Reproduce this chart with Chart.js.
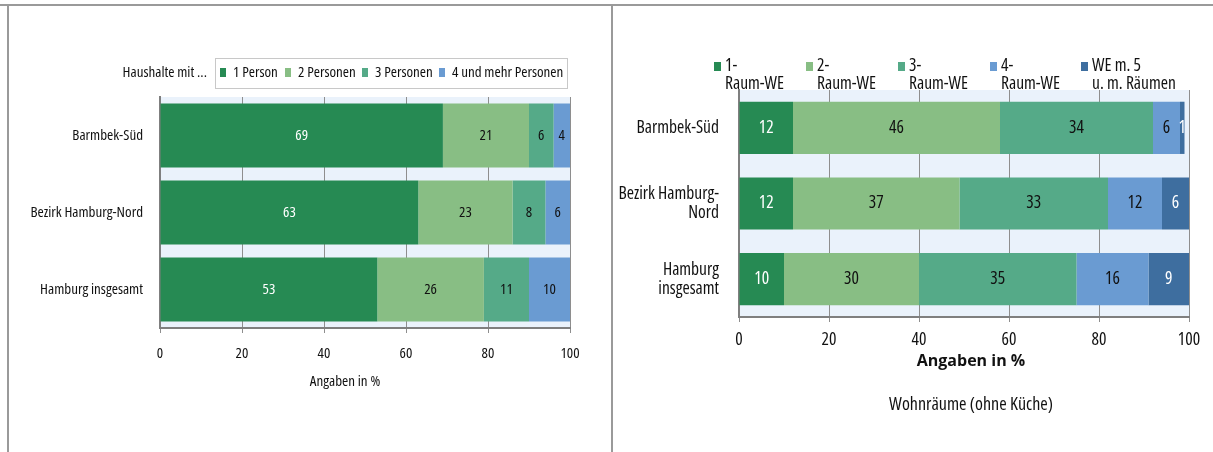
<!DOCTYPE html>
<html lang="de">
<head>
<meta charset="utf-8">
<title>Haushalte und Wohnräume</title>
<script src="https://cdn.jsdelivr.net/npm/chart.js@4.4.1/dist/chart.umd.min.js"></script>
<style>
  html, body { margin: 0; padding: 0; background: #fff; }
  body { width: 1213px; height: 452px; position: relative; overflow: hidden; }
  .rule { position: absolute; background: #9a9a9a; }
  #ruleTop { left: 0; top: 4px; width: 1213px; height: 2px; }
  #ruleLeft { left: 7px; top: 4px; width: 2px; height: 448px; }
  #ruleMid { left: 611px; top: 4px; width: 2px; height: 448px; }
  #wrapL { position: absolute; left: 0; top: 0; width: 611px; height: 452px; }
  #wrapR { position: absolute; left: 613px; top: 0; width: 600px; height: 452px; }
</style>
</head>
<body>
<div class="rule" id="ruleTop"></div>
<div class="rule" id="ruleLeft"></div>
<div class="rule" id="ruleMid"></div>
<div id="wrapL"><canvas id="chartL"></canvas></div>
<div id="wrapR"><canvas id="chartR"></canvas></div>
<script>
// ---- Haushaltsgröße (Anteile in %) ----
const regionsL = ['Barmbek-Süd', 'Bezirk Hamburg-Nord', 'Hamburg insgesamt'];
const hhLabels = ['1 Person', '2 Personen', '3 Personen', '4 und mehr Personen'];
const hh1 = [69, 63, 53];
const hh2 = [21, 23, 26];
const hh3 = [6, 8, 11];
const hh4 = [4, 6, 10];

// ---- Wohnungsgröße nach Räumen (Anteile in %) ----
const regionsR = [['Barmbek-Süd'], ['Bezirk Hamburg-', 'Nord'], ['Hamburg', 'insgesamt']];
const weLabels = [['1-', 'Raum-WE'], ['2-', 'Raum-WE'], ['3-', 'Raum-WE'], ['4-', 'Raum-WE'], ['WE m. 5', 'u. m. Räumen']];
const we1 = [12, 12, 10];
const we2 = [46, 37, 30];
const we3 = [34, 33, 35];
const we4 = [6, 12, 16];
const we5 = [1, 6, 9];

const xTicks = [0, 20, 40, 60, 80, 100];
const axisTitle = 'Angaben in %';
const noteR = 'Wohnräume (ohne Küche)';

// narrow lettering: condensed width of Open Sans (goes into the canvas font shorthand)
const FAMILY = '"Open Sans", "DejaVu Sans Condensed", sans-serif';
const NARROW = 'condensed 500';
const canvasFont = (size, weight) => (weight || NARROW) + ' ' + size + 'px ' + FAMILY;

const C = {
  green: '#268a53', light: '#88be84', teal: '#55aa88', blue: '#6a9bd2', navy: '#3e6e9f',
  plot: '#eaf2fb', grid: '#8e8e8e', axis: '#7f7f7f', text: '#111'
};

Chart.defaults.font.family = FAMILY;
Chart.defaults.font.weight = NARROW;
Chart.defaults.color = C.text;

// light background behind the plotting area
const plotBg = {
  id: 'plotBg',
  beforeDraw(chart) {
    const { ctx, chartArea: a } = chart;
    ctx.save();
    ctx.fillStyle = C.plot;
    ctx.fillRect(a.left, a.top, a.right - a.left, a.bottom - a.top);
    ctx.restore();
  }
};

// value printed in the middle of each bar segment
const segLabels = {
  id: 'segLabels',
  afterDatasetsDraw(chart, args, opts) {
    const { ctx } = chart;
    ctx.save();
    ctx.font = canvasFont(opts.fs);
    ctx.textAlign = 'center';
    ctx.textBaseline = 'middle';
    chart.data.datasets.forEach((ds, i) => {
      const meta = chart.getDatasetMeta(i);
      meta.data.forEach((bar, j) => {
        ctx.fillStyle = ds.labelColor;
        ctx.fillText(String(ds.data[j]), (bar.x + bar.base) / 2, bar.y);
      });
    });
    ctx.restore();
  }
};

// legend drawn at fixed slots, text may wrap over two lines
const slotLegend = {
  id: 'slotLegend',
  afterDraw(chart, args, opts) {
    const { ctx } = chart;
    ctx.save();
    ctx.font = canvasFont(opts.fs);
    ctx.textBaseline = 'middle';
    if (opts.box) {
      const b = opts.box;
      ctx.strokeStyle = '#c8c8c8';
      ctx.lineWidth = 1;
      ctx.strokeRect(b.x + 0.5, b.y + 0.5, b.w, b.h);
    }
    if (opts.title) {
      ctx.fillStyle = C.text;
      ctx.textAlign = 'right';
      ctx.fillText(opts.title.text, opts.title.x, opts.title.y);
    }
    ctx.textAlign = 'left';
    chart.data.datasets.forEach((ds, i) => {
      const mx = opts.markerX[i];
      ctx.fillStyle = ds.backgroundColor;
      ctx.fillRect(mx, opts.markerY, opts.markerW, opts.markerH);
      ctx.fillStyle = C.text;
      const lines = Array.isArray(ds.label) ? ds.label : [ds.label];
      lines.forEach((t, k) => ctx.fillText(t, mx + opts.textGap, opts.textY + k * opts.lineStep));
    });
    ctx.restore();
  }
};

// axis title and notes placed below the plot, relative to its centre
const captions = {
  id: 'captions',
  afterDraw(chart, args, opts) {
    const { ctx, chartArea: a } = chart;
    const cx = (a.left + a.right) / 2;
    ctx.save();
    ctx.fillStyle = C.text;
    ctx.textAlign = 'center';
    ctx.textBaseline = 'middle';
    (opts.items || []).forEach(it => {
      ctx.font = canvasFont(it.size, it.weight);
      ctx.fillText(it.text, cx + it.dx, it.y);
    });
    ctx.restore();
  }
};

function makeOptions(cfg) {
  return {
    indexAxis: 'y',
    responsive: true,
    maintainAspectRatio: false,
    animation: false,
    events: [],
    layout: { padding: cfg.padding },
    datasets: { bar: { categoryPercentage: 1, barPercentage: cfg.barPct, borderWidth: 0 } },
    scales: {
      x: {
        stacked: true, min: 0, max: 100,
        afterBuildTicks(scale) { scale.ticks = xTicks.map(v => ({ value: v })); },
        afterFit(scale) { scale.height = cfg.xHeight; },
        grid: { color: C.grid, lineWidth: 1, tickLength: 5, drawOnChartArea: true },
        border: { color: C.axis, width: 2 },
        ticks: { font: { size: cfg.fs, lineHeight: 1.2 }, padding: cfg.tickPad, color: C.text, maxRotation: 0 },
        title: { display: false, text: axisTitle }
      },
      y: {
        stacked: true,
        afterFit(scale) { scale.width = cfg.yWidth; },
        grid: { display: false },
        border: { color: C.axis, width: 2 },
        ticks: { font: { size: cfg.fs, lineHeight: 1.1 }, padding: cfg.yPad, color: C.text }
      }
    },
    plugins: {
      legend: { display: false },
      tooltip: { enabled: false },
      segLabels: { fs: cfg.fs },
      slotLegend: Object.assign({ fs: cfg.fs }, cfg.legend),
      captions: { items: cfg.captions }
    }
  };
}

new Chart(document.getElementById('chartL'), {
  type: 'bar',
  data: {
    labels: regionsL,
    datasets: [
      { label: hhLabels[0], data: hh1, backgroundColor: C.green, labelColor: '#fff' },
      { label: hhLabels[1], data: hh2, backgroundColor: C.light, labelColor: C.text },
      { label: hhLabels[2], data: hh3, backgroundColor: C.teal, labelColor: C.text },
      { label: hhLabels[3], data: hh4, backgroundColor: C.blue, labelColor: C.text }
    ]
  },
  options: makeOptions({
    fs: 15,
    padding: { left: 0, top: 97, right: 41, bottom: 60.6 },
    barPct: 0.83, xHeight: 63.4, tickPad: 11.6, yWidth: 160, yPad: 9,
    legend: {
      box: { x: 215, y: 58, w: 352, h: 30 },
      title: { text: 'Haushalte mit ...', x: 207, y: 73 },
      markerX: [220, 285, 362, 439], markerY: 68, markerW: 6, markerH: 9,
      textGap: 13, textY: 73, lineStep: 0
    },
    captions: [{ text: axisTitle, y: 382, dx: -20, size: 15 }]
  }),
  plugins: [plotBg, segLabels, slotLegend, captions]
});

new Chart(document.getElementById('chartR'), {
  type: 'bar',
  data: {
    labels: regionsR,
    datasets: [
      { label: weLabels[0], data: we1, backgroundColor: C.green, labelColor: '#fff' },
      { label: weLabels[1], data: we2, backgroundColor: C.light, labelColor: C.text },
      { label: weLabels[2], data: we3, backgroundColor: C.teal, labelColor: C.text },
      { label: weLabels[3], data: we4, backgroundColor: C.blue, labelColor: C.text },
      { label: weLabels[4], data: we5, backgroundColor: C.navy, labelColor: '#fff' }
    ]
  },
  options: makeOptions({
    fs: 17.5,
    padding: { left: 0, top: 90, right: 24, bottom: 82 },
    barPct: 0.69, xHeight: 53, tickPad: 7.5, yWidth: 126, yPad: 12,
    legend: {
      markerX: [101, 193, 285, 377, 468], markerY: 62, markerW: 7, markerH: 9,
      textGap: 11, textY: 66, lineStep: 18.5
    },
    captions: [
      { text: axisTitle, y: 361, dx: 7, size: 16, weight: 'normal 700' },
      { text: noteR, y: 405, dx: 7, size: 18 }
    ]
  }),
  plugins: [plotBg, segLabels, slotLegend, captions]
});
</script>
</body>
</html>
